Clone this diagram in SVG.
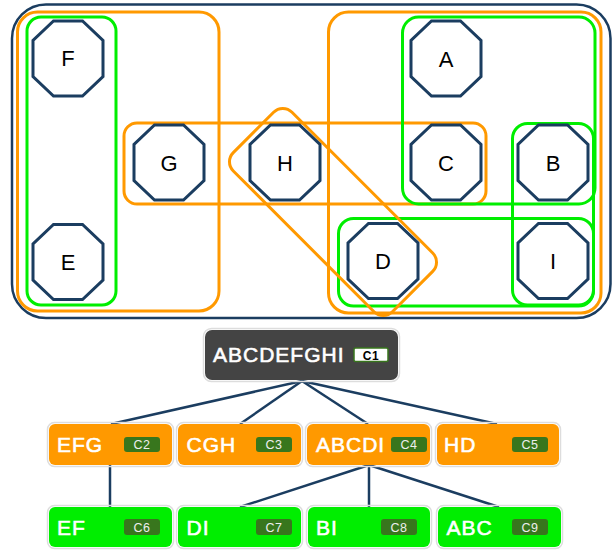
<svg xmlns="http://www.w3.org/2000/svg" xmlns:xlink="http://www.w3.org/1999/xlink" width="613" height="550" viewBox="0 0 613 550">
<style>
.orange{fill:none;stroke:#ff9900;stroke-width:3}
.green{fill:none;stroke:#00ee00;stroke-width:3}
.oct{fill:#ffffff;stroke:#1b3d60;stroke-width:3;stroke-linejoin:miter}
.olbl{font-family:"Liberation Sans",Arial,sans-serif;font-size:22px;fill:#000;text-anchor:middle}
.conn line{stroke:#1b3d60;stroke-width:2.5}
.halo{fill:none;stroke:#dddddd;stroke-width:1.5}
.t{font-family:"Liberation Sans",Arial,sans-serif;font-size:21px;fill:#ffffff;stroke:#ffffff;stroke-width:0.6;letter-spacing:1px}
.badge{fill:#38761d}
.bt{font-family:"Liberation Sans",Arial,sans-serif;font-size:12.5px;fill:#eeeeee;text-anchor:middle;letter-spacing:0.5px}
</style>
<defs>
<polygon id="octa" points="-14.5,-37.5 14.5,-37.5 35,-18 35,18 14.5,37.5 -14.5,37.5 -35,18 -35,-18"/>
</defs>

<g id="hypergraph">
<rect x="12" y="4.5" width="598.5" height="313.5" rx="34" fill="#ffffff" stroke="#1b3d60" stroke-width="2.5"/>
<rect class="orange" x="17.5" y="12" width="201.5" height="299" rx="20"/>
<rect class="green" x="27" y="17" width="89" height="288" rx="14"/>
<rect class="orange" x="124" y="123" width="362" height="81" rx="13"/>
<rect class="orange" x="328.5" y="12" width="272.5" height="301" rx="20"/>
<rect class="green" x="402.5" y="17" width="192.5" height="187" rx="16"/>
<rect class="green" x="512.5" y="123.5" width="81" height="181.5" rx="15"/>
<rect class="green" x="338.5" y="218.5" width="255" height="87.5" rx="15"/>
<rect class="orange" x="220.5" y="170.5" width="225" height="83" rx="13" transform="rotate(45 333 212)"/>
</g>

<g id="node-F"><use xlink:href="#octa" class="oct" x="68" y="58.5"/><text class="olbl" x="68" y="66">F</text></g>
<g id="node-E"><use xlink:href="#octa" class="oct" x="68" y="262"/><text class="olbl" x="68" y="270">E</text></g>
<g id="node-G"><use xlink:href="#octa" class="oct" x="169" y="162.5"/><text class="olbl" x="169" y="170.5">G</text></g>
<g id="node-H"><use xlink:href="#octa" class="oct" x="285" y="162.5"/><text class="olbl" x="285" y="170.5">H</text></g>
<g id="node-A"><use xlink:href="#octa" class="oct" x="446" y="58.5"/><text class="olbl" x="446" y="66.5">A</text></g>
<g id="node-C"><use xlink:href="#octa" class="oct" x="446" y="162.5"/><text class="olbl" x="446" y="170.5">C</text></g>
<g id="node-B"><use xlink:href="#octa" class="oct" x="553" y="162.5"/><text class="olbl" x="553" y="170.5">B</text></g>
<g id="node-D"><use xlink:href="#octa" class="oct" x="383" y="261"/><text class="olbl" x="383" y="269">D</text></g>
<g id="node-I"><use xlink:href="#octa" class="oct" x="553" y="261"/><text class="olbl" x="553" y="269">I</text></g>

<g id="connectors" class="conn">
<line x1="302" y1="381" x2="111" y2="424"/>
<line x1="302" y1="381" x2="240" y2="424"/>
<line x1="302" y1="381" x2="368" y2="424"/>
<line x1="302" y1="381" x2="497" y2="424"/>
<line x1="110" y1="465" x2="110" y2="507"/>
<line x1="369" y1="465" x2="240" y2="507"/>
<line x1="369" y1="465" x2="369" y2="507"/>
<line x1="369" y1="465" x2="499" y2="507"/>
</g>

<g id="C1">
<rect class="halo" x="203.5" y="328.5" width="196" height="53" rx="8"/>
<rect x="205" y="330" width="193" height="50" rx="7" fill="#444444"/>
<text class="t" x="213" y="361.5">ABCDEFGHI</text>
<rect x="354" y="348" width="34" height="13.5" rx="1.5" fill="#ffffff" stroke="#38761d" stroke-width="1.5"/>
<text class="bt" x="371" y="359.5" style="fill:#000;font-weight:bold;font-size:12px">C1</text>
</g>

<g id="C2">
<rect class="halo" x="47.5" y="422.5" width="126" height="44" rx="7"/>
<rect x="49" y="424" width="123" height="41" rx="6" fill="#ff9900"/>
<text class="t" x="57" y="451.5">EFG</text>
<rect class="badge" x="124" y="437" width="36" height="15" rx="3"/>
<text class="bt" x="142" y="449">C2</text>
</g>
<g id="C3">
<rect class="halo" x="176.5" y="422.5" width="126" height="44" rx="7"/>
<rect x="178" y="424" width="123" height="41" rx="6" fill="#ff9900"/>
<text class="t" x="186.5" y="451.5">CGH</text>
<rect class="badge" x="256" y="437" width="36" height="15" rx="3"/>
<text class="bt" x="274" y="449">C3</text>
</g>
<g id="C4">
<rect class="halo" x="305.5" y="422.5" width="126" height="44" rx="7"/>
<rect x="307" y="424" width="123" height="41" rx="6" fill="#ff9900"/>
<text class="t" x="316" y="451.5">ABCDI</text>
<rect class="badge" x="391" y="437" width="36" height="15" rx="3"/>
<text class="bt" x="409" y="449">C4</text>
</g>
<g id="C5">
<rect class="halo" x="435.5" y="422.5" width="125" height="44" rx="7"/>
<rect x="437" y="424" width="122" height="41" rx="6" fill="#ff9900"/>
<text class="t" x="444" y="451.5">HD</text>
<rect class="badge" x="512" y="437" width="36" height="15" rx="3"/>
<text class="bt" x="530" y="449">C5</text>
</g>

<g id="C6">
<rect class="halo" x="47.5" y="505.5" width="126" height="43" rx="7"/>
<rect x="49" y="507" width="123" height="40" rx="6" fill="#00ee00"/>
<text class="t" x="57" y="535">EF</text>
<rect class="badge" x="124" y="519" width="36" height="16" rx="3"/>
<text class="bt" x="142" y="531.5">C6</text>
</g>
<g id="C7">
<rect class="halo" x="176.5" y="505.5" width="126" height="43" rx="7"/>
<rect x="178" y="507" width="123" height="40" rx="6" fill="#00ee00"/>
<text class="t" x="186.5" y="535">DI</text>
<rect class="badge" x="256" y="519" width="36" height="16" rx="3"/>
<text class="bt" x="274" y="531.5">C7</text>
</g>
<g id="C8">
<rect class="halo" x="306.5" y="505.5" width="125" height="43" rx="7"/>
<rect x="308" y="507" width="122" height="40" rx="6" fill="#00ee00"/>
<text class="t" x="316" y="535">BI</text>
<rect class="badge" x="381" y="519" width="36" height="16" rx="3"/>
<text class="bt" x="399" y="531.5">C8</text>
</g>
<g id="C9">
<rect class="halo" x="436.5" y="505.5" width="126" height="43" rx="7"/>
<rect x="438" y="507" width="123" height="40" rx="6" fill="#00ee00"/>
<text class="t" x="446.5" y="535">ABC</text>
<rect class="badge" x="512" y="519" width="36" height="16" rx="3"/>
<text class="bt" x="530" y="531.5">C9</text>
</g>
</svg>
